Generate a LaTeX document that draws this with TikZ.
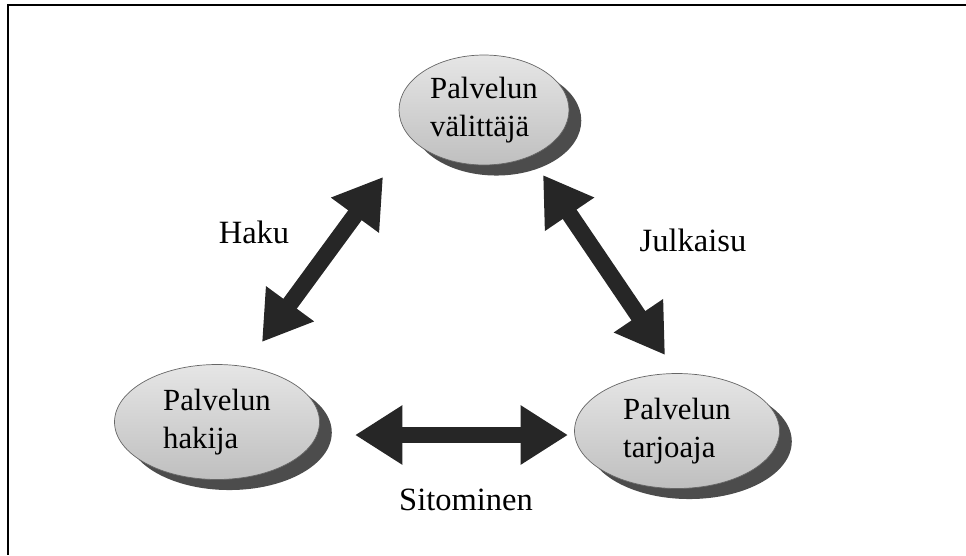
\documentclass[tikz,border=0pt]{standalone}
\usepackage{fontspec}
\setmainfont{Liberation Serif}
\usetikzlibrary{shapes.geometric,shadows,arrows.meta}

\begin{document}
\begin{tikzpicture}[x=0.02cm,y=-0.02cm]
\tikzset{r/.style={ellipse,inner sep=0pt,align=left,draw=black!60,thin,
    top color=gray!20,bottom color=gray!50,
    drop shadow={shadow xshift=7pt,shadow yshift=-6pt,fill=black!70,opacity=1},
    font=\fontsize{17.5}{21.5}\selectfont},
  a/.style={line width=9.5pt,draw=black!85,
    {Triangle[length=27pt,width=32pt]}-{Triangle[length=27pt,width=32pt]}},
  l/.style={font=\fontsize{18.5}{22}\selectfont}}
\useasboundingbox (0,0) rectangle (966,555);

\draw[line width=1.6pt] (966,5) -- (8,5) -- (8,555);

\node[r,minimum width=3.4cm,minimum height=2.2cm] (val) at (484,110) {Palvelun\\välittäjä};
\node[r,minimum width=4.1cm,minimum height=2.3cm] (hak) at (217,422) {Palvelun\\hakija};
\node[r,minimum width=4.1cm,minimum height=2.3cm] (tar) at (677,431) {Palvelun\\tarjoaja};

\coordinate (h1) at (262,342);
\coordinate (h2) at (383,177);
\coordinate (j1) at (543,175);
\coordinate (j2) at (665,355);
\coordinate (s1) at (355,435);
\coordinate (s2) at (568,435);
\draw[a] (h1) -- (h2);
\draw[a] (j1) -- (j2);
\draw[a] (s1) -- (s2);

\node[l] (haku) at (254,232) {Haku};
\node[l] (julk) at (693,240) {Julkaisu};
\node[l] (sito) at (466,500) {Sitominen};
\end{tikzpicture}
\end{document}
